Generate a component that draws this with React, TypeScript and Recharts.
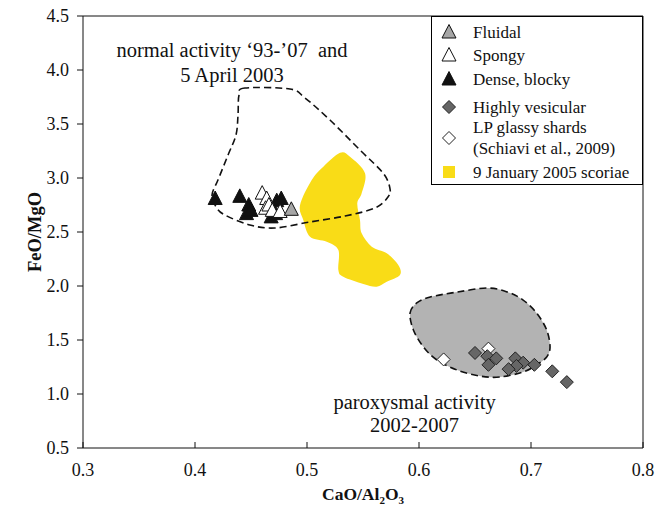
import React from 'react';
import {
  ScatterChart,
  Scatter,
  XAxis,
  YAxis,
  ReferenceLine,
  ReferenceDot,
  Legend,
} from 'recharts';

const FONT = '"Liberation Serif", "Times New Roman", serif';

const xTicks = [0.3, 0.4, 0.5, 0.6, 0.7, 0.8];
const yTicks = [0.5, 1.0, 1.5, 2.0, 2.5, 3.0, 3.5, 4.0, 4.5];

// samples
const fluidal = [{ x: 0.486, y: 2.71 }];
const spongy = [
  { x: 0.460, y: 2.86 },
  { x: 0.464, y: 2.81 },
  { x: 0.463, y: 2.72 },
  { x: 0.466, y: 2.75 },
  { x: 0.469, y: 2.70 },
  { x: 0.476, y: 2.69 },
];
const dense = [
  { x: 0.418, y: 2.81 },
  { x: 0.440, y: 2.83 },
  { x: 0.448, y: 2.75 },
  { x: 0.446, y: 2.67 },
  { x: 0.450, y: 2.70 },
  { x: 0.473, y: 2.79 },
  { x: 0.477, y: 2.81 },
  { x: 0.468, y: 2.64 },
  { x: 0.472, y: 2.67 },
];
const vesicular = [
  { x: 0.650, y: 1.38 },
  { x: 0.661, y: 1.35 },
  { x: 0.669, y: 1.33 },
  { x: 0.662, y: 1.27 },
  { x: 0.686, y: 1.33 },
  { x: 0.693, y: 1.29 },
  { x: 0.687, y: 1.26 },
  { x: 0.680, y: 1.23 },
  { x: 0.703, y: 1.27 },
  { x: 0.719, y: 1.21 },
  { x: 0.732, y: 1.11 },
];
const lpShards = [
  { x: 0.622, y: 1.32 },
  { x: 0.662, y: 1.42 },
];

// fields
const normalField = [
  { x: 0.4446, y: 3.833 }, { x: 0.4393, y: 3.769 }, { x: 0.4384, y: 3.583 },
  { x: 0.4366, y: 3.398 }, { x: 0.4295, y: 3.213 }, { x: 0.4205, y: 2.981 },
  { x: 0.4152, y: 2.843 }, { x: 0.419, y: 2.73 }, { x: 0.4268, y: 2.657 },
  { x: 0.449, y: 2.565 }, { x: 0.4714, y: 2.537 }, { x: 0.5027, y: 2.593 },
  { x: 0.534, y: 2.648 }, { x: 0.5607, y: 2.722 }, { x: 0.5723, y: 2.824 },
  { x: 0.574, y: 2.907 }, { x: 0.5679, y: 3.046 }, { x: 0.5473, y: 3.259 },
  { x: 0.5205, y: 3.537 }, { x: 0.4982, y: 3.741 }, { x: 0.4848, y: 3.824 },
];
const paroxysmalField = [
  { x: 0.592, y: 1.75 }, { x: 0.598, y: 1.843 }, { x: 0.61, y: 1.898 },
  { x: 0.634, y: 1.944 }, { x: 0.661, y: 1.981 }, { x: 0.679, y: 1.944 },
  { x: 0.693, y: 1.87 }, { x: 0.705, y: 1.75 }, { x: 0.714, y: 1.593 },
  { x: 0.717, y: 1.435 }, { x: 0.714, y: 1.343 }, { x: 0.705, y: 1.269 },
  { x: 0.693, y: 1.204 }, { x: 0.672, y: 1.157 }, { x: 0.654, y: 1.167 },
  { x: 0.634, y: 1.222 }, { x: 0.616, y: 1.315 }, { x: 0.604, y: 1.435 },
  { x: 0.595, y: 1.593 },
];
const scoriaeField = [
  { x: 0.5295, y: 3.234 }, { x: 0.5384, y: 3.197 }, { x: 0.5518, y: 3.044 },
  { x: 0.5488, y: 2.858 }, { x: 0.5449, y: 2.766 }, { x: 0.5473, y: 2.611 },
  { x: 0.5488, y: 2.488 }, { x: 0.5578, y: 2.364 }, { x: 0.5712, y: 2.303 },
  { x: 0.5815, y: 2.194 }, { x: 0.583, y: 2.102 }, { x: 0.5712, y: 2.04 },
  { x: 0.5622, y: 1.994 }, { x: 0.5503, y: 2.019 }, { x: 0.5324, y: 2.086 },
  { x: 0.528, y: 2.148 }, { x: 0.528, y: 2.333 }, { x: 0.5176, y: 2.41 },
  { x: 0.5027, y: 2.456 }, { x: 0.4967, y: 2.611 }, { x: 0.4938, y: 2.75 },
  { x: 0.5042, y: 2.981 }, { x: 0.5146, y: 3.105 },
];

const YELLOW = '#f9dc17';
const FIELD_GREY = '#b3b3b3';
const TRI_GREY = '#a6a6a6';
const DIA_GREY = '#666666';

const triPath = (cx: number, cy: number) =>
  `M${cx},${cy - 7.5}L${cx + 7},${cy + 6}L${cx - 7},${cy + 6}Z`;
const diaPath = (cx: number, cy: number) =>
  `M${cx},${cy - 6.5}L${cx + 6.5},${cy}L${cx},${cy + 6.5}L${cx - 6.5},${cy}Z`;

const triangle = (fill: string) => (props: any) => (
  <path d={triPath(props.cx, props.cy)} fill={fill} stroke="#111" strokeWidth={1} />
);
const diamond = (fill: string) => (props: any) => (
  <path d={diaPath(props.cx, props.cy)} fill={fill} stroke="#222" strokeWidth={1} />
);
const noShape = () => <g />;

// closed smooth outline through the points (catmull-rom)
const closedPath = (pts: { x: number; y: number }[]) => {
  const n = pts.length;
  let d = `M${pts[0].x},${pts[0].y}`;
  for (let i = 0; i < n; i++) {
    const p0 = pts[(i - 1 + n) % n];
    const p1 = pts[i];
    const p2 = pts[(i + 1) % n];
    const p3 = pts[(i + 2) % n];
    const c1x = p1.x + (p2.x - p0.x) / 6;
    const c1y = p1.y + (p2.y - p0.y) / 6;
    const c2x = p2.x - (p3.x - p1.x) / 6;
    const c2y = p2.y - (p3.y - p1.y) / 6;
    d += `C${c1x},${c1y} ${c2x},${c2y} ${p2.x},${p2.y}`;
  }
  return d + 'Z';
};

const fieldLine = (fill: string, stroke: string, dash?: string) => (props: any) => (
  <path
    d={closedPath(props.points)}
    fill={fill}
    stroke={stroke}
    strokeWidth={1.6}
    strokeDasharray={dash}
  />
);

const legendRows = [
  { label: 'Fluidal', y: 16, kind: 'tri', fill: TRI_GREY },
  { label: 'Spongy', y: 39, kind: 'tri', fill: '#fff' },
  { label: 'Dense, blocky', y: 63, kind: 'tri', fill: '#111' },
  { label: 'Highly vesicular', y: 91, kind: 'dia', fill: DIA_GREY },
  { label: 'LP glassy shards', y: 111, kind: 'dia', fill: '#fff', label2: '(Schiavi et al., 2009)' },
  { label: '9 January 2005 scoriae', y: 156, kind: 'sq', fill: YELLOW },
];

const LegendBox = () => (
  <svg width={212} height={170} style={{ display: 'block' }}>
    <rect x={0.5} y={0.5} width={211} height={168} fill="#fff" stroke="#000" strokeWidth={1} />
    {legendRows.map((r) => {
      const my = r.label2 ? r.y + 11 : r.y;
      return (
        <g key={r.label}>
          {r.kind === 'tri' && (
            <path d={triPath(18, my)} fill={r.fill} stroke="#111" />
          )}
          {r.kind === 'dia' && (
            <path d={diaPath(18, my)} fill={r.fill} stroke="#222" />
          )}
          {r.kind === 'sq' && <rect x={12} y={my - 6} width={12} height={12} fill={r.fill} />}
          <text x={42} y={r.y} dominantBaseline="central" fontFamily={FONT} fontSize={17} fill="#111">
            {r.label}
          </text>
          {r.label2 && (
            <text x={42} y={r.y + 21} dominantBaseline="central" fontFamily={FONT} fontSize={17} fill="#111">
              {r.label2}
            </text>
          )}
        </g>
      );
    })}
  </svg>
);

const XTitle = (props: any) => {
  const vb = props.viewBox;
  return (
    <text
      x={vb.x + vb.width / 2}
      y={vb.y + 52}
      textAnchor="middle"
      fontFamily={FONT}
      fontSize={17.5}
      fontWeight="bold"
      fill="#111"
    >
      CaO/Al<tspan fontSize={11} dy={4}>2</tspan>
      <tspan dy={-4}>O</tspan>
      <tspan fontSize={11} dy={4}>3</tspan>
    </text>
  );
};

const YTitle = (props: any) => {
  const vb = props.viewBox;
  const cx = vb.x + 12;
  const cy = vb.y + vb.height / 2;
  return (
    <text
      x={cx}
      y={cy}
      transform={`rotate(-90 ${cx} ${cy})`}
      textAnchor="middle"
      dominantBaseline="central"
      fontFamily={FONT}
      fontSize={18.5}
      fontWeight="bold"
      fill="#111"
    >
      FeO/MgO
    </text>
  );
};

const note = (text: string) => ({
  value: text,
  position: 'center' as const,
  fill: '#111',
  fontSize: 20.5,
  fontFamily: FONT,
});

const tickStyle = { fill: '#111', fontSize: 18, fontFamily: FONT };

export default function App() {
  return (
    <div style={{ position: 'absolute', left: 0, top: 0, background: '#fff' }}>
      <ScatterChart
        width={664}
        height={511}
        margin={{ top: 16, right: 21, bottom: 23, left: 23 }}
      >
        <XAxis
          type="number"
          dataKey="x"
          domain={[0.3, 0.8]}
          ticks={xTicks}
          tickFormatter={(v: number) => v.toFixed(1)}
          tick={tickStyle}
          tickSize={-6}
          tickMargin={21}
          height={40}
          stroke="#111"
          allowDataOverflow
          label={<XTitle />}
        />
        <YAxis
          type="number"
          dataKey="y"
          domain={[0.5, 4.5]}
          ticks={yTicks}
          tickFormatter={(v: number) => v.toFixed(1)}
          tick={tickStyle}
          tickSize={6}
          tickMargin={8}
          width={60}
          stroke="#111"
          allowDataOverflow
          label={<YTitle />}
        />
        <ReferenceLine y={4.5} stroke="#111" />
        <ReferenceLine x={0.8} stroke="#111" />

        <Scatter
          data={paroxysmalField}
          shape={noShape}
          line={fieldLine(FIELD_GREY, '#111', '7 4')}
          legendType="none"
          isAnimationActive={false}
        />
        <Scatter
          data={scoriaeField}
          shape={noShape}
          line={fieldLine(YELLOW, 'none')}
          legendType="none"
          isAnimationActive={false}
        />
        <Scatter
          data={normalField}
          shape={noShape}
          line={fieldLine('none', '#111', '7 4')}
          legendType="none"
          isAnimationActive={false}
        />

        <Scatter data={dense} shape={triangle('#111')} isAnimationActive={false} />
        <Scatter data={spongy} shape={triangle('#fff')} isAnimationActive={false} />
        <Scatter data={fluidal} shape={triangle(TRI_GREY)} isAnimationActive={false} />
        <Scatter data={lpShards} shape={diamond('#fff')} isAnimationActive={false} />
        <Scatter data={vesicular} shape={diamond(DIA_GREY)} isAnimationActive={false} />

        <ReferenceDot x={0.433} y={4.185} r={0} label={note('normal activity \u201893-\u201907\u00a0 and')} />
        <ReferenceDot x={0.433} y={3.954} r={0} label={note('5 April 2003')} />
        <ReferenceDot x={0.596} y={0.926} r={0} label={note('paroxysmal activity')} />
        <ReferenceDot x={0.596} y={0.713} r={0} label={note('2002-2007')} />

        <Legend
          layout="vertical"
          align="center"
          verticalAlign="middle"
          content={() => <LegendBox />}
          wrapperStyle={{ position: 'absolute', left: 431, top: 16, width: 212, height: 170 }}
        />
      </ScatterChart>
    </div>
  );
}
